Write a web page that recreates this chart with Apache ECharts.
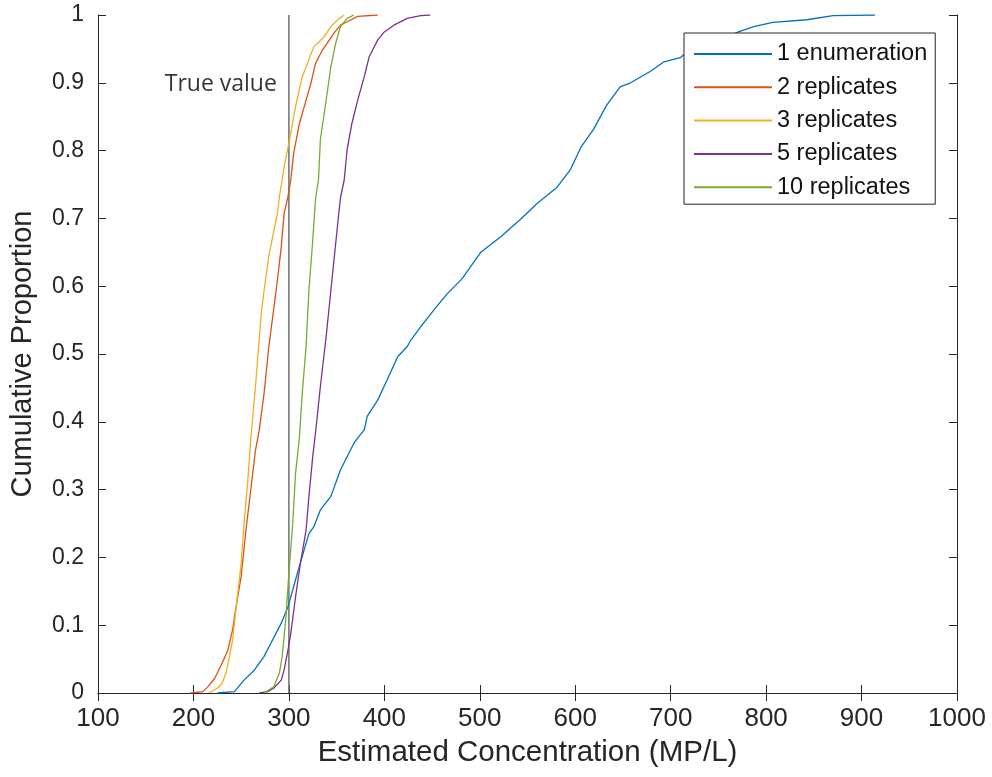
<!DOCTYPE html>
<html>
<head>
<meta charset="utf-8">
<script src="https://cdn.jsdelivr.net/npm/echarts@6/dist/echarts.min.js"></script>
<style>
html,body{margin:0;padding:0;background:#fff;}
#chart{width:992px;height:777px;}
</style>
</head>
<body>
<div id="chart"></div>
<script>
// ---- Data ----
const seriesNames = ['1 enumeration', '2 replicates', '3 replicates', '5 replicates', '10 replicates'];
const seriesColors = ['#0072BD', '#D95319', '#EDB120', '#7E2F8E', '#77AC30'];

const enumeration1 = [[225,0],[243,0.002],[253,0.019],[264,0.034],[274,0.054],[281,0.073],[292,0.103],[299,0.127],[309,0.177],[316,0.211],[321,0.235],[326,0.245],[333,0.270],[344,0.290],[354,0.329],[368,0.368],[372,0.376],[379,0.388],[382,0.408],[393,0.432],[403,0.462],[414,0.496],[424,0.511],[428,0.521],[438,0.540],[452,0.565],[466,0.589],[480,0.609],[483,0.614],[501,0.650],[522,0.673],[543,0.699],[560,0.722],[581,0.746],[595,0.772],[606,0.805],[619,0.831],[633,0.867],[647,0.894],[658,0.900],[679,0.917],[693,0.931],[710,0.937],[715,0.943],[740,0.956],[771,0.975],[787,0.983],[807,0.989],[843,0.993],[870,0.999],[914,1]];

const replicates2 = [[197,0],[210,0.002],[215,0.009],[222,0.021],[230,0.044],[236,0.063],[241,0.093],[244,0.122],[250,0.172],[255,0.240],[260,0.299],[265,0.358],[269,0.388],[274,0.442],[279,0.511],[288,0.609],[292,0.658],[295,0.707],[299,0.732],[302,0.757],[305,0.796],[311,0.840],[318,0.874],[323,0.899],[328,0.929],[335,0.948],[340,0.958],[347,0.973],[354,0.985],[361,0.990],[372,0.998],[393,1]];

const replicates3 = [[216,0],[225,0.007],[230,0.014],[234,0.029],[237,0.049],[241,0.078],[246,0.142],[250,0.191],[253,0.250],[257,0.314],[260,0.373],[265,0.452],[271,0.560],[274,0.594],[279,0.644],[283,0.673],[288,0.707],[290,0.732],[293,0.757],[295,0.776],[300,0.811],[307,0.865],[314,0.909],[321,0.934],[326,0.953],[337,0.968],[344,0.983],[353,0.995],[358,1]];

const replicates5 = [[269,0],[278,0.002],[284,0.007],[292,0.019],[295,0.034],[299,0.063],[302,0.088],[307,0.142],[312,0.191],[318,0.240],[321,0.290],[325,0.349],[328,0.385],[333,0.452],[339,0.525],[344,0.594],[349,0.663],[354,0.730],[358,0.757],[361,0.801],[366,0.840],[372,0.874],[379,0.909],[384,0.938],[393,0.963],[400,0.975],[410,0.985],[424,0.995],[438,0.999],[448,1]];

const replicates10 = [[274,0],[284,0.009],[290,0.029],[293,0.054],[297,0.113],[300,0.177],[304,0.250],[307,0.324],[311,0.376],[314,0.442],[318,0.511],[321,0.594],[325,0.668],[328,0.730],[331,0.757],[333,0.816],[339,0.874],[344,0.924],[349,0.958],[354,0.983],[361,0.995],[368,1]];

const trueValue = 300;
const trueValueLine = [[trueValue,0],[trueValue,1]];
const trueValueLabel = [[trueValue,0.897]];

const xMin = 100, xMax = 1000, xStep = 100;
const yMin = 0, yMax = 1, yStep = 0.1;

// ---- Chart ----
const allData = [enumeration1, replicates2, replicates3, replicates5, replicates10];
const axisColor = '#262626';
const fontFam = '"Liberation Sans", Arial, Helvetica, sans-serif';

const chart = echarts.init(document.getElementById('chart'), null, {renderer:'canvas'});

const series = [
  {
    name: 'True value',
    type: 'line',
    data: trueValueLine,
    showSymbol: false,
    silent: true,
    lineStyle: {color:'#707070', width:1.5},
    z: 1
  },
  {
    name: 'TrueValueText',
    type: 'scatter',
    data: trueValueLabel,
    symbolSize: 0,
    silent: true,
    label: {
      show: true, position: 'left', distance: 12,
      formatter: 'True value',
      fontFamily: '"Open Sans", "Noto Sans", sans-serif',
      fontSize: 23, color: '#000'
    }
  }
];
allData.forEach((d, i) => {
  series.push({
    name: seriesNames[i],
    type: 'line',
    data: d,
    showSymbol: false,
    smooth: false,
    lineStyle: {color: seriesColors[i], width: 1.3},
    itemStyle: {color: seriesColors[i]},
    z: 3
  });
});

const plainNum = v => String(Math.round(v * 1000) / 1000);

const option = {
  animation: false,
  backgroundColor: '#fff',
  textStyle: {fontFamily: fontFam},
  grid: {left: 97, right: 35, top: 15, bottom: 84, containLabel: false},
  legend: {
    data: seriesNames,
    orient: 'vertical',
    left: 684, top: 33,
    padding: [9, 8, 5, 10],
    itemWidth: 78, itemHeight: 2,
    itemGap: 9.3,
    itemTextGap: 7,
    icon: 'rect',
    backgroundColor: '#fff',
    borderColor: axisColor,
    borderWidth: 1,
    borderRadius: 0,
    textStyle: {fontFamily: fontFam, fontSize: 23.5, color: '#111', lineHeight: 23}
  },
  xAxis: [
    {
      type: 'value', min: xMin, max: xMax, interval: xStep,
      position: 'bottom',
      name: 'Estimated Concentration (MP/L)',
      nameLocation: 'middle', nameGap: 45,
      nameTextStyle: {fontFamily: fontFam, fontSize: 29.5, color: axisColor},
      axisLine: {show: true, lineStyle: {color: axisColor, width: 1}},
      axisTick: {show: true, inside: true, length: 8, lineStyle: {color: axisColor}},
      axisLabel: {show: true, margin: 13, fontSize: 26, color: axisColor, fontFamily: fontFam, formatter: plainNum},
      splitLine: {show: false}
    },
    {
      type: 'value', min: xMin, max: xMax, interval: xStep,
      position: 'top',
      axisLine: {show: true, lineStyle: {color: axisColor, width: 1}},
      axisTick: {show: true, inside: true, length: 8, lineStyle: {color: axisColor}},
      axisLabel: {show: false},
      splitLine: {show: false}
    }
  ],
  yAxis: [
    {
      type: 'value', min: yMin, max: yMax, interval: yStep,
      position: 'left',
      name: 'Cumulative Proportion',
      nameLocation: 'middle', nameGap: 61,
      nameTextStyle: {fontFamily: fontFam, fontSize: 29, color: axisColor},
      axisLine: {show: true, lineStyle: {color: axisColor, width: 1}},
      axisTick: {show: true, inside: true, length: 8, lineStyle: {color: axisColor}},
      axisLabel: {show: true, margin: 14, fontSize: 23, color: axisColor, fontFamily: fontFam, formatter: plainNum},
      splitLine: {show: false}
    },
    {
      type: 'value', min: yMin, max: yMax, interval: yStep,
      position: 'right',
      axisLine: {show: true, lineStyle: {color: axisColor, width: 1}},
      axisTick: {show: true, inside: true, length: 8, lineStyle: {color: axisColor}},
      axisLabel: {show: false},
      splitLine: {show: false}
    }
  ],
  series: series
};
chart.setOption(option);
</script>
</body>
</html>
